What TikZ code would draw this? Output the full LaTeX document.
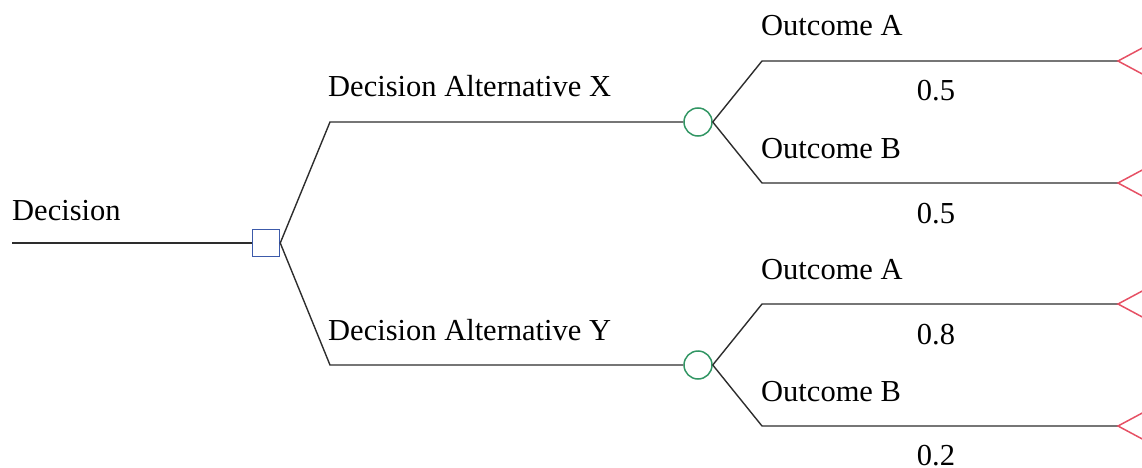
\documentclass[tikz,border=0pt]{standalone}
\usepackage{fontspec}
\setmainfont{Liberation Serif}
\usetikzlibrary{calc}
\definecolor{linegray}{RGB}{45,45,45}
\definecolor{decblue}{RGB}{60,90,170}
\definecolor{chgreen}{RGB}{50,150,100}
\definecolor{endred}{RGB}{230,80,100}
\begin{document}
\begin{tikzpicture}[x=1pt,y=-1pt,
  branch/.style={draw=linegray, line width=1.4pt},
  lbl/.style={anchor=base west, inner sep=0pt, font=\fontsize{30.5}{30.5}\selectfont},
  prob/.style={anchor=base, inner sep=0pt, font=\fontsize{30.5}{30.5}\selectfont},
  decnode/.style={draw=decblue, fill=white, line width=1.5pt, minimum size=27pt, inner sep=0pt, shape=rectangle},
  chancenode/.style={draw=chgreen, line width=1.5pt, circle, minimum size=28pt, inner sep=0pt},
  endnode/.style={draw=endred, line width=1.5pt}]
\useasboundingbox (0,0) rectangle (1142,468);
\clip (0,0) rectangle (1142,468);

% root decision
\coordinate (start) at (12,243);
\node[decnode] (d) at (266,243) {};
\draw[branch] (start) -- (d.west);
\node[lbl] (tDec) at (12,220) {Decision};

% decision alternatives
\coordinate (x0) at (330,122);
\coordinate (y0) at (330,365);
\node[chancenode] (cx) at (698,122) {};
\node[chancenode] (cy) at (698,365) {};
\draw[branch] (d.east) -- (x0) -- (cx.west);
\draw[branch] (d.east) -- (y0) -- (cy.west);
\node[lbl] (tX) at (328,97) {Decision Alternative X};
\node[lbl] (tY) at (328,340) {Decision Alternative Y};

% outcome branches
\foreach \c/\ya/\yb/\n in {cx/61/183/1, cy/304/426/2}{
  \coordinate (a\n) at (762,\ya);
  \coordinate (b\n) at (762,\yb);
  \coordinate (ea\n) at (1118,\ya);
  \coordinate (eb\n) at (1118,\yb);
  \draw[branch] (\c.east) -- (a\n) -- (ea\n);
  \draw[branch] (\c.east) -- (b\n) -- (eb\n);
  \draw[endnode] ($(ea\n)+(28,-15)$) -- (ea\n) -- ($(ea\n)+(28,15)$);
  \draw[endnode] ($(eb\n)+(28,-15)$) -- (eb\n) -- ($(eb\n)+(28,15)$);
}
\node[lbl] (oA1) at (761,36) {Outcome A};
\node[lbl] (oB1) at (761,158) {Outcome B};
\node[lbl] (oA2) at (761,279) {Outcome A};
\node[lbl] (oB2) at (761,401) {Outcome B};
\node[prob] (p1) at (936,101) {0.5};
\node[prob] (p2) at (936,223) {0.5};
\node[prob] (p3) at (936,344) {0.8};
\node[prob] (p4) at (936,465) {0.2};
\end{tikzpicture}
\end{document}
